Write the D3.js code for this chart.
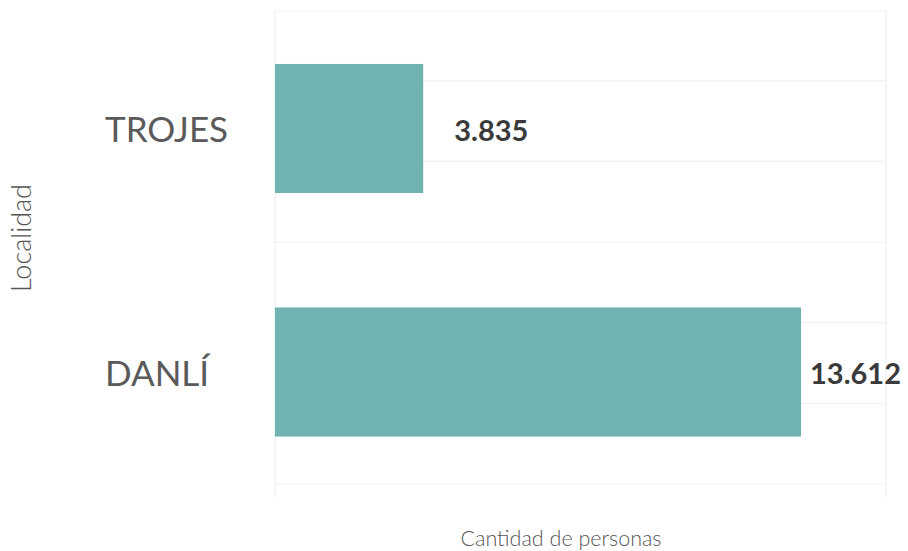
<!DOCTYPE html>
<html>
<head>
<meta charset="utf-8">
<script src="https://cdn.jsdelivr.net/npm/d3@7"></script>
<style>
    body { margin: 0; background: #FFFFFF; }
    text { font-family: Lato, 'Open Sans', sans-serif; }
</style>
</head>
<body>
<div id="chart"></div>
<script>
const localidades = ['TROJES', 'DANLÍ'];
const personas = [3835, 13612];
const valueLabels = ['3.835', '13.612'];

const width = 908;
const height = 551;
const plot = { left: 275, right: 886, top: 11, bottom: 497 };

const svg = d3.select('#chart')
    .append('svg')
    .attr('width', width)
    .attr('height', height);

const x = d3.scaleLinear()
    .domain([0, 15810])
    .range([plot.left, plot.right]);

const y = d3.scaleBand()
    .domain(localidades)
    .range([6.75, 493.75])
    .paddingInner(0.47)
    .paddingOuter(0.235);

// faint grid, 6 horizontal lines below the top border
const gridY = d3.scaleLinear().domain([0, 6]).range([0, 484]);

const grid = svg.append('g').attr('class', 'grid');

grid.selectAll('.hline')
    .data(d3.range(1, 7))
    .enter().append('line')
    .attr('x1', plot.left)
    .attr('x2', plot.right)
    .attr('y1', d => gridY(d))
    .attr('y2', d => gridY(d))
    .attr('stroke', '#F2F2F2')
    .attr('stroke-width', 1.2);

grid.append('line')
    .attr('x1', plot.left).attr('x2', plot.right)
    .attr('y1', plot.top).attr('y2', plot.top)
    .attr('stroke', '#F2F2F2')
    .attr('stroke-width', 1.2);

grid.selectAll('.vline')
    .data([plot.left, plot.right])
    .enter().append('line')
    .attr('x1', d => d)
    .attr('x2', d => d)
    .attr('y1', plot.top)
    .attr('y2', plot.bottom)
    .attr('stroke', '#EFEFEF')
    .attr('stroke-width', 1.2);

const rows = localidades.map((name, i) => ({ name, value: personas[i], label: valueLabels[i] }));

svg.append('g')
    .selectAll('rect')
    .data(rows)
    .enter().append('rect')
    .attr('x', x(0))
    .attr('y', d => y(d.name))
    .attr('width', d => x(d.value) - x(0))
    .attr('height', y.bandwidth())
    .attr('fill', '#70B3B1');

// category labels, left aligned
svg.append('g')
    .selectAll('text')
    .data(rows)
    .enter().append('text')
    .attr('x', 105)
    .attr('y', d => y(d.name) + y.bandwidth() / 2 + 13.5)
    .attr('fill', '#5A5A5A')
    .style('font-size', '35px')
    .text(d => d.name);

// value labels; keep them inside the page
const values = svg.append('g')
    .selectAll('text')
    .data(rows)
    .enter().append('text')
    .attr('x', d => x(d.value) + 31)
    .attr('y', d => y(d.name) + y.bandwidth() / 2 + 12)
    .attr('fill', '#3A3A3A')
    .style('font-size', '29px')
    .style('font-weight', 700)
    .text(d => d.label);

values.each(function() {
    const box = this.getBBox();
    if (box.x + box.width > width - 7) {
        d3.select(this).attr('x', width - 7 - box.width);
    }
});

svg.append('text')
    .attr('x', 561)
    .attr('y', 546)
    .attr('text-anchor', 'middle')
    .attr('fill', '#555555')
    .style('font-size', '21.5px')
    .style('font-weight', 300)
    .text('Cantidad de personas');

svg.append('text')
    .attr('transform', 'translate(31,238) rotate(-90)')
    .attr('text-anchor', 'middle')
    .attr('fill', '#555555')
    .style('font-size', '27px')
    .style('font-weight', 300)
    .text('Localidad');
</script>
</body>
</html>
